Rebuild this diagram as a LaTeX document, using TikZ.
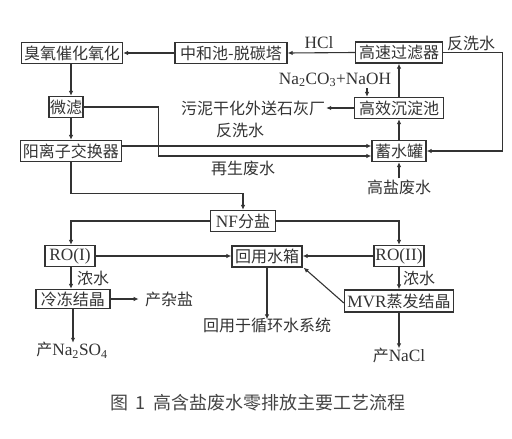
\documentclass[tikz,border=0pt]{standalone}
\usepackage{fontspec}
\setmainfont{Liberation Serif}[Scale=1.08]
\newfontfamily\cjk{Noto Sans CJK SC}
\usetikzlibrary{arrows.meta}
\definecolor{ink}{HTML}{333333}
\definecolor{capink}{HTML}{444444}
\tikzset{
  box/.style={draw=ink, line width=1.3pt, inner xsep=1pt, inner ysep=1pt, minimum height=21pt, text=ink, font=\cjk\fontsize{16}{16}\selectfont},
  lbl/.style={inner sep=1pt, text=ink, font=\cjk\fontsize{16}{16}\selectfont},
  arr/.style={draw=ink, line width=1.1pt, -{Latex[length=5pt,width=4.5pt]}},
}
\newcommand{\lat}[1]{{\rmfamily #1}}
\begin{document}
\begin{tikzpicture}[x=1pt,y=-1pt]
\useasboundingbox (0,0) rectangle (512,439);
% boxes
\node[box, minimum width=101pt] (oz) at (72,53) {臭氧催化氧化};
\node[box, minimum width=112pt] (nh) at (231,53) {中和池-脱碳塔};
\node[box, minimum width=87pt] (gs) at (399,52.5) {高速过滤器};
\node[box, minimum width=89pt] (gx) at (399,108) {高效沉淀池};
\node[box, minimum width=54pt] (xs) at (399,151) {蓄水罐};
\node[box, minimum width=34pt] (wl) at (66,107) {微滤};
\node[box, minimum width=101pt] (yl) at (71,151) {阳离子交换器};
\node[box, minimum width=65pt] (nf) at (243,221) {\lat{NF}分盐};
\node[box, minimum width=50pt] (ro1) at (70,256) {\lat{RO(I)}};
\node[box, minimum width=70pt] (hy) at (267,256.5) {回用水箱};
\node[box, minimum width=50pt] (ro2) at (399,256) {\lat{RO(II)}};
\node[box, minimum width=74pt, minimum height=19pt] (ld) at (73,299) {冷冻结晶};
\node[box, minimum width=109pt, minimum height=22pt] (mvr) at (399,301) {\lat{MVR}蒸发结晶};
% labels
\node[lbl] (hcl) at (319,43) {\lat{HCl}};
\node[lbl] (fx1) at (471,43) {反洗水};
\node[lbl] (na) at (335,80) {\lat{Na\textsubscript{2}CO\textsubscript{3}+NaOH}};
\node[lbl] (wn) at (253,108) {污泥干化外送石灰厂};
\node[lbl] (gy) at (399,187) {高盐废水};
\node[lbl] (fx2) at (240,130) {反洗水};
\node[lbl] (zs) at (243,168) {再生废水};
\node[lbl] (nx1) at (93,278) {浓水};
\node[lbl] (nx2) at (419,278) {浓水};
\node[lbl] (zz) at (169,299) {产杂盐};
\node[lbl] (na2) at (72,350) {产\lat{Na\textsubscript{2}SO\textsubscript{4}}};
\node[lbl] (hyx) at (267,325) {回用于循环水系统};
\node[lbl] (nacl) at (399,355) {产\lat{NaCl}};
\node[inner sep=0pt, text=capink, font=\cjk\fontsize{18}{18}\selectfont] (cap) at (258,403) {图\hspace{8pt}1\hspace{8pt}高含盐废水零排放主要工艺流程};
% connectors
\draw[arr] (gs.west) -- (nh.east);
\draw[arr] (nh.west) -- (oz.east);
\draw[arr] ([xshift=-1pt]oz.south) -- ([xshift=-1pt]oz.south |- wl.north);
\draw[arr] ([xshift=-1pt]oz.south |- wl.south) -- ([xshift=-1pt]oz.south |- yl.north);
\draw[arr] (gx.north) -- (gs.south);
\draw[arr] ([xshift=-32pt]gx.north |- na.south) -- ([xshift=-32pt]gx.north);
\draw[arr] (gx.west) -- (wn.east);
\draw[arr] (xs.north) -- (gx.south);
\draw[arr] (gy.north) -- (xs.south);
\draw[arr] (gs.east) -- ++(59,0) |- (xs.east);
\draw[arr] (wl.east) -- ++(75,0) |- ([yshift=-5pt]xs.west);
\draw[arr] ([yshift=5pt]yl.east) -- ([yshift=5pt]xs.west);
\draw[arr] (yl.south) -- ++(0,31) -| (nf.north);
\draw[arr] (nf.west) -| ([xshift=1pt]ro1.north);
\draw[arr] (nf.east) -| (ro2.north);
\draw[arr] (ro1.east) -- (ro1.east -| hy.west);
\draw[arr] (ro2.west) -- (ro2.west -| hy.east);
\draw[arr] ([xshift=1pt]ro1.south) -- ([xshift=1pt]ro1.south |- ld.north);
\draw[arr] (ld.east) -- ++(28,0);
\draw[arr] (ld.south) -- ([yshift=-2pt]na2.north -| ld.south);
\draw[arr] (hy.south) -- ([yshift=-3pt]hyx.north);
\draw[arr] (ro2.south) -- (mvr.north);
\draw[arr] ([yshift=-2pt]mvr.west) -- ([xshift=1pt]hy.south east);
\draw[arr] (mvr.south) -- ([yshift=-2pt]nacl.north);
\end{tikzpicture}
\end{document}
